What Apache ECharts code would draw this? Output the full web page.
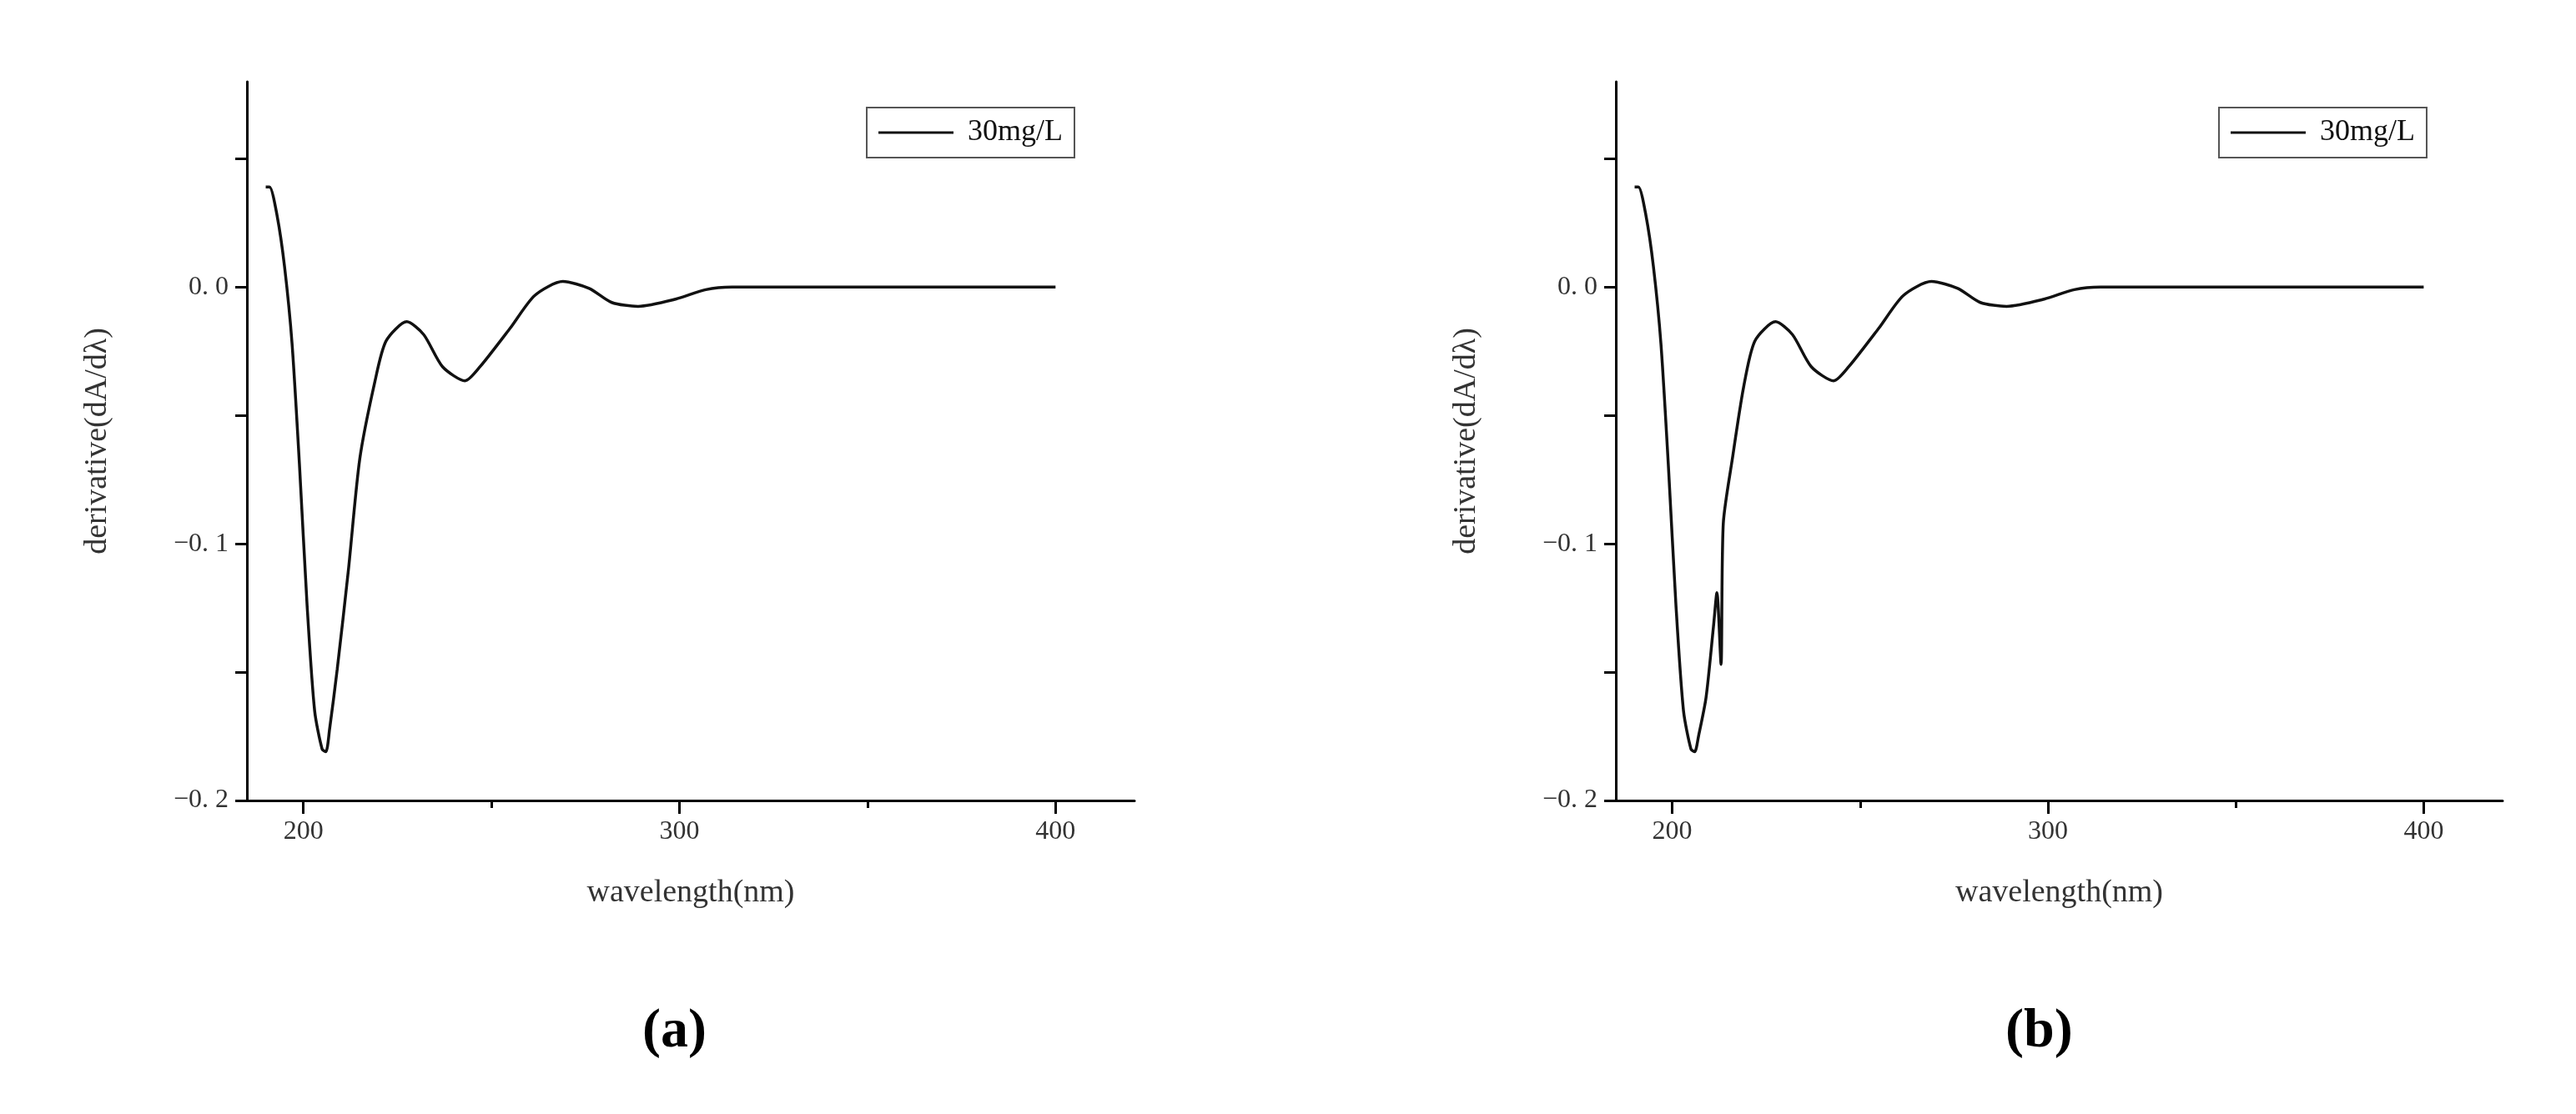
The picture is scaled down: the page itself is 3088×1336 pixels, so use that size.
<!DOCTYPE html>
<html>
<head>
<meta charset="utf-8">
<script src="https://cdn.jsdelivr.net/npm/echarts@6/dist/echarts.min.js"></script>
<style>html,body{margin:0;background:#fff}#c{width:3088px;height:1336px}</style>
</head>
<body>
<div id="c"></div>
<script>
// wavelength (nm) and derivative values
const wlA = [190, 191, 193, 195, 197, 199, 201, 203, 205, 206, 207, 209, 212, 215, 219, 222, 227.5, 232, 237, 243, 247, 255, 261.5, 269, 276, 282, 289, 299, 307, 314, 400];
const valA = [0.039, 0.039, 0.028, 0.008, -0.022, -0.07, -0.124, -0.165, -0.180, -0.181, -0.172, -0.149, -0.110, -0.067, -0.037, -0.021, -0.0135, -0.0185, -0.031, -0.0365, -0.031, -0.016, -0.0033, 0.0022, -0.0005, -0.006, -0.0075, -0.0047, -0.001, 0, 0];

const wlB = [190, 191, 193, 195, 197, 199, 201, 203, 205, 206, 207, 209, 211, 211.9, 213, 213.6, 216, 219, 222, 227.5, 232, 237, 243, 247, 255, 261.5, 269, 276, 282, 289, 299, 307, 314, 400];
const valB = [0.039, 0.039, 0.028, 0.008, -0.022, -0.07, -0.124, -0.165, -0.180, -0.181, -0.175, -0.160, -0.132, -0.119, -0.147, -0.092, -0.067, -0.039, -0.021, -0.0135, -0.0185, -0.031, -0.0365, -0.031, -0.016, -0.0033, 0.0022, -0.0005, -0.006, -0.0075, -0.0047, -0.001, 0, 0];

const seriesName = '30mg/L';
const xTitle = 'wavelength(nm)';
const yTitle = 'derivative(dA/dλ)';

const font = 'Liberation Serif';
const txt = '#333';

function pairs(xs, ys) { return xs.map((x, i) => [x, ys[i]]); }

function xAxis(idx) {
  return {
    type: 'value', gridIndex: idx, min: 185, max: 421, interval: 50, position: 'bottom',
    name: xTitle, nameLocation: 'middle', nameGap: 92,
    nameTextStyle: { fontFamily: font, fontSize: 38, color: txt },
    axisLine: { onZero: false, lineStyle: { color: '#000', width: 3 } },
    axisTick: { show: true, length: 16, lineStyle: { color: '#000', width: 3 },
      customValues: [200, 300, 400] },
    axisLabel: { fontFamily: font, fontSize: 32, color: txt, margin: 22,
      customValues: [200, 300, 400] },
    splitLine: { show: false }
  };
}
function xMinor(idx) {
  return {
    type: 'value', gridIndex: idx, min: 185, max: 421, position: 'bottom',
    axisLine: { show: false, onZero: false },
    axisTick: { show: true, length: 9, lineStyle: { color: '#000', width: 3 },
      customValues: [250, 350] },
    axisLabel: { show: false }, splitLine: { show: false }
  };
}
function yAxis(idx) {
  return {
    type: 'value', gridIndex: idx, min: -0.2, max: 0.08, interval: 0.05,
    name: yTitle, nameLocation: 'middle', nameGap: 160,
    nameTextStyle: { fontFamily: font, fontSize: 38, color: txt },
    axisLine: { show: true, onZero: false, lineStyle: { color: '#000', width: 3 } },
    axisTick: { show: true, length: 14, lineStyle: { color: '#000', width: 3 },
      customValues: [-0.2, -0.15, -0.1, -0.05, 0, 0.05] },
    axisLabel: { fontFamily: font, fontSize: 32, color: txt, margin: 22,
      customValues: [-0.2, -0.1, 0],
      formatter: v => (v < 0 ? '\u2212' : '') + Math.abs(v).toFixed(1).replace('.', '. ') },
    splitLine: { show: false }
  };
}
function legend(left) {
  return {
    data: [seriesName], left: left, top: 129, width: 257, height: 58,
    orient: 'horizontal', padding: [12, 14], borderColor: '#555', borderWidth: 2,
    itemWidth: 90, itemHeight: 3, itemGap: 0,
    icon: 'rect',
    textStyle: { fontFamily: font, fontSize: 36, color: '#111', padding: [0, 0, 0, 12] },
    selectedMode: false
  };
}
function line(idx, data) {
  return {
    name: seriesName, type: 'line', xAxisIndex: idx, yAxisIndex: idx,
    data: data, showSymbol: false, smooth: 0.25,
    lineStyle: { color: '#111', width: 3.5 }, itemStyle: { color: '#111' }
  };
}

const chart = echarts.init(document.getElementById('c'));
chart.setOption({
  animation: false,
  backgroundColor: '#fff',
  grid: [
    { left: 296, top: 98, width: 1064, height: 862 },
    { left: 1937, top: 98, width: 1063, height: 862 }
  ],
  xAxis: [xAxis(0), xAxis(1), xMinor(0), xMinor(1)],
  yAxis: [yAxis(0), yAxis(1)],
  legend: [legend(1039), legend(2660)],
  series: [line(0, pairs(wlA, valA)), line(1, pairs(wlB, valB))],
  graphic: [
    { type: 'text', left: 770, top: 1205, style: { text: '(a)', fontFamily: font, fontSize: 66, fontWeight: 'bold', fill: '#000' } },
    { type: 'text', left: 2404, top: 1205, style: { text: '(b)', fontFamily: font, fontSize: 66, fontWeight: 'bold', fill: '#000' } }
  ]
});
</script>
</body>
</html>
